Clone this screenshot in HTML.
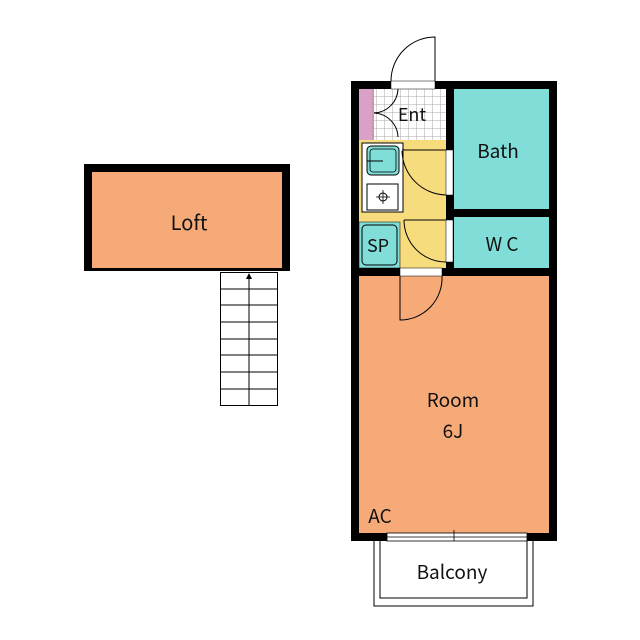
<!DOCTYPE html>
<html><head><style>html,body{margin:0;padding:0;background:#fff}svg{display:block}text{font-family:"Noto Sans CJK JP","DejaVu Sans",sans-serif;fill:#111}</style></head><body>
<svg width="640" height="640" viewBox="0 0 640 640">
<defs><pattern id="g" width="8" height="8" patternUnits="userSpaceOnUse"><rect width="8" height="8" fill="#fff"/><path d="M0 0H8M0 0V8" stroke="#aaa" stroke-width="1"/></pattern></defs>
<rect x="84" y="164" width="206" height="107" fill="#000"/>
<rect x="92" y="172" width="190" height="96" fill="#F5AA78"/>
<text x="189" y="230" font-size="20" text-anchor="middle">Loft</text>
<g stroke="#000" stroke-width="1" fill="none">
<rect x="220.5" y="272.5" width="57" height="133" fill="#fff"/>
<path d="M249 278V405M220 289H278M220 305H278M220 322H278M220 339H278M220 355H278M220 372H278M220 389H278"/>
</g>
<path d="M249 273l-3 6h6z" fill="#000"/>
<rect x="351" y="81" width="206" height="460" fill="#000"/>
<rect x="359" y="276" width="190" height="257" fill="#F5AA78"/>
<rect x="454" y="89" width="95" height="120" fill="#80DDD8"/>
<rect x="454" y="217" width="95" height="51" fill="#80DDD8"/>
<rect x="359" y="140" width="87" height="128" fill="#F7DC7E"/>
<rect x="372" y="89" width="74" height="51" fill="url(#g)"/>
<rect x="359" y="89" width="13" height="51" fill="#D9A0C8"/>
<line x1="373" y1="89" x2="373" y2="140" stroke="#c9a" stroke-width="2"/>
<rect x="362" y="143" width="41" height="69" fill="#fff" stroke="#000"/>
<rect x="367" y="146" width="32" height="29" rx="4" fill="#80DDD8" stroke="#000"/>
<rect x="370" y="149" width="26" height="23" rx="3" fill="none" stroke="#000" stroke-width=".8"/>
<line x1="367" y1="161" x2="383" y2="161" stroke="#000"/>
<rect x="367" y="184" width="31" height="26" fill="#fff" stroke="#000"/>
<circle cx="383" cy="197" r="4" fill="none" stroke="#000"/>
<path d="M383 190v14M376 197h14" stroke="#000" stroke-width=".8"/>
<rect x="359" y="222" width="41" height="46" fill="#80DDD8" stroke="#000" stroke-width=".5"/>
<rect x="362" y="225" width="35" height="40" rx="4" fill="none" stroke="#000"/>
<text x="378" y="252" font-size="18" text-anchor="middle">SP</text>
<rect x="446" y="150" width="7" height="45" fill="#fff" stroke="#000" stroke-width=".5"/>
<rect x="446" y="220" width="7" height="42" fill="#fff" stroke="#000" stroke-width=".5"/>
<path d="M446 195A45 45 0 0 1 402 151M402 150H446" fill="none" stroke="#000"/>
<path d="M446 262A42 42 0 0 1 404 220M404 220H446" fill="none" stroke="#000"/>
<rect x="391" y="81" width="44" height="8" fill="#fff" stroke="#000" stroke-width=".5"/>
<path d="M435 81V37A44 44 0 0 0 391 81" fill="none" stroke="#000"/>
<path d="M398 89A25 25 0 0 1 374 113A25 25 0 0 1 398 137" fill="none" stroke="#000"/>
<rect x="400" y="268" width="42" height="8" fill="#fff" stroke="#000" stroke-width=".5"/>
<path d="M400 276V320A42 42 0 0 0 442 276" fill="none" stroke="#000"/>
<rect x="387" y="533" width="140" height="8" fill="#fff" stroke="#000" stroke-width=".8"/>
<line x1="387" y1="537" x2="527" y2="537" stroke="#000" stroke-width=".8"/>
<line x1="454" y1="530" x2="454" y2="541" stroke="#000" stroke-width=".8"/>
<path d="M374 541V606H533V541M380 541V598H527V541" fill="none" stroke="#000"/>
<text x="412" y="121" font-size="18" text-anchor="middle">Ent</text>
<text x="498" y="158" font-size="19" text-anchor="middle">Bath</text>
<text x="502" y="251" font-size="19" text-anchor="middle">W C</text>
<text x="453" y="407" font-size="19" text-anchor="middle">Room</text>
<text x="453" y="438" font-size="19" text-anchor="middle">6J</text>
<text x="380" y="523" font-size="19" text-anchor="middle">AC</text>
<text x="452" y="579" font-size="19" text-anchor="middle">Balcony</text>
</svg>
</body></html>
